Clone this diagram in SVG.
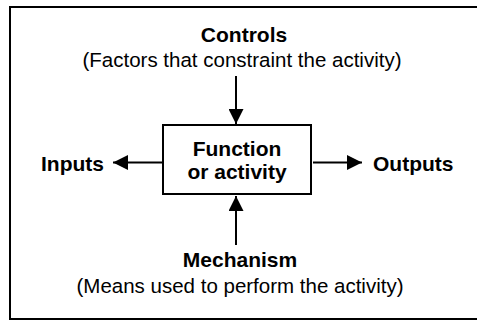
<svg xmlns="http://www.w3.org/2000/svg" width="477" height="321" viewBox="0 0 477 321">
<style>
.b{font-family:"Liberation Sans",Arial,sans-serif;font-weight:bold;font-size:21px;fill:#000}
.r{font-family:"Liberation Sans",Arial,sans-serif;font-size:20.5px;fill:#000}
.ln{stroke:#000;stroke-width:2;fill:none}
</style>
<defs>
<marker id="ah" viewBox="0 0 10 10" refX="10" refY="5" markerWidth="16" markerHeight="15" markerUnits="userSpaceOnUse" orient="auto">
<path d="M0,0 L10,5 L0,10 Z" fill="#000"/>
</marker>
</defs>
<rect width="477" height="321" fill="#fff"/>
<path class="ln" d="M480,7 H10 V319 H480" stroke-width="2.5"/>
<g id="connectors">
<line class="ln" x1="236" y1="76" x2="236" y2="124" marker-end="url(#ah)"/>
<line class="ln" x1="236" y1="245" x2="236" y2="196" marker-end="url(#ah)"/>
<line class="ln" x1="163" y1="162.5" x2="113" y2="162.5" marker-end="url(#ah)"/>
<line class="ln" x1="313" y1="162.5" x2="362" y2="162.5" marker-end="url(#ah)"/>
</g>
<g id="function">
<rect class="ln" x="163" y="125" width="148" height="69"/>
<text class="b" x="237" y="156" text-anchor="middle">Function</text>
<text class="b" x="237" y="179" text-anchor="middle">or activity</text>
</g>
<g id="controls">
<text class="b" x="244" y="42" text-anchor="middle">Controls</text>
<text class="r" x="242" y="67" text-anchor="middle">(Factors that constraint the activity)</text>
</g>
<g id="mechanism">
<text class="b" x="240" y="267" text-anchor="middle">Mechanism</text>
<text class="r" x="240" y="293" text-anchor="middle">(Means used to perform the activity)</text>
</g>
<g id="inputs">
<text class="b" x="41" y="170.5">Inputs</text>
</g>
<g id="outputs">
<text class="b" x="373" y="170.5">Outputs</text>
</g>
</svg>
